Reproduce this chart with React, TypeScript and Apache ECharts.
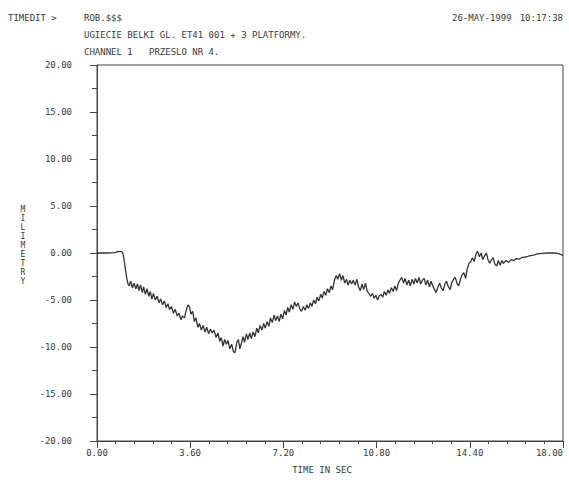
import React, { useEffect, useRef } from "react";
import * as echarts from "echarts";

const headerLeft = "TIMEDIT >";
const fileName = "ROB.$$$";
const titleLine = "UGIECIE BELKI GL. ET41 001 + 3 PLATFORMY.";
const channelLine = "CHANNEL 1   PRZESLO NR 4.";
const dateText = "26-MAY-1999";
const timeText = "10:17:38";
const xAxisName = "TIME IN SEC";
const yAxisName = "MILIMETRY";

const times = [
  0, 0.4, 0.7, 0.8, 0.95, 1.0, 1.05, 1.1, 1.15, 1.2, 1.25, 1.3, 1.37, 1.43, 1.5, 1.56, 1.62, 1.68, 1.75, 1.8,
  1.87, 1.93, 2.0, 2.06, 2.12, 2.18, 2.25, 2.32, 2.4, 2.46, 2.53, 2.6, 2.67, 2.74, 2.8, 2.88, 2.95, 3.02, 3.1, 3.17,
  3.24, 3.3, 3.38, 3.45, 3.52, 3.58, 3.63, 3.7, 3.76, 3.82, 3.9, 3.96, 4.03, 4.1, 4.17, 4.24, 4.31, 4.38, 4.45, 4.52,
  4.6, 4.67, 4.74, 4.8, 4.87, 4.93, 5.0, 5.06, 5.13, 5.2, 5.27, 5.33, 5.4, 5.46, 5.52, 5.58, 5.64, 5.7, 5.77, 5.83,
  5.9, 5.96, 6.03, 6.1, 6.17, 6.23, 6.3, 6.37, 6.44, 6.5, 6.57, 6.64, 6.7, 6.77, 6.84, 6.9, 6.97, 7.04, 7.1, 7.17,
  7.24, 7.3, 7.37, 7.43, 7.5, 7.57, 7.63, 7.7, 7.77, 7.84, 7.9, 7.97, 8.04, 8.1, 8.17, 8.24, 8.3, 8.37, 8.44, 8.5,
  8.57, 8.64, 8.7, 8.77, 8.84, 8.9, 8.97, 9.04, 9.1, 9.17, 9.24, 9.3, 9.37, 9.44, 9.5, 9.57, 9.64, 9.7, 9.77, 9.84,
  9.9, 9.97, 10.04, 10.1, 10.17, 10.24, 10.3, 10.37, 10.44, 10.5, 10.57, 10.64, 10.7, 10.77, 10.84, 10.9, 10.97, 11.04, 11.1, 11.17,
  11.24, 11.3, 11.37, 11.44, 11.5, 11.57, 11.64, 11.7, 11.77, 11.84, 11.9, 11.97, 12.04, 12.1, 12.17, 12.24, 12.3, 12.37, 12.44, 12.5,
  12.57, 12.64, 12.7, 12.77, 12.84, 12.9, 12.97, 13.04, 13.1, 13.17, 13.24, 13.3, 13.37, 13.44, 13.5, 13.57, 13.64, 13.7, 13.77, 13.84,
  13.9, 13.97, 14.04, 14.1, 14.17, 14.24, 14.3, 14.37, 14.44, 14.5, 14.57, 14.64, 14.7, 14.77, 14.84, 14.9, 14.97, 15.04, 15.1, 15.17,
  15.24, 15.3, 15.37, 15.44, 15.5, 15.57, 15.64, 15.7, 15.8, 15.9, 16.0, 16.1, 16.2, 16.3, 16.4, 16.5, 16.6, 16.7, 16.8, 16.9,
  17.0, 17.2, 17.4, 17.6, 17.8, 18.0,
];

const values = [
  0, 0, 0.05, 0.15, 0.15, 0.0, -0.8, -1.8, -2.7, -3.3, -3.5, -3.0, -3.7, -3.2, -3.8, -3.3, -4.0, -3.4, -4.2, -3.6,
  -4.4, -3.8, -4.6, -4.1, -4.9, -4.3, -5.0, -4.6, -5.3, -4.9, -5.5, -5.1, -5.8, -5.4, -6.0, -5.7, -6.4, -6.0, -6.7, -6.4,
  -7.1, -6.7, -6.9, -6.0, -5.5, -5.8, -6.5, -6.2, -7.3, -6.9, -7.9, -7.5, -8.2, -7.7, -8.4, -7.9, -8.6, -8.1, -8.5, -8.2,
  -9.0, -8.5, -9.4, -9.0, -9.9, -9.2, -9.7, -9.3, -10.2, -9.7, -10.5, -10.6, -9.5, -9.2, -10.2, -9.6, -8.9, -9.5, -8.6, -9.2,
  -8.5, -9.1, -8.4, -8.9, -8.0, -8.5, -7.7, -8.2, -7.5, -8.0, -7.3, -7.8, -6.9, -7.4, -6.6, -7.2, -6.7, -7.3, -6.5, -7.0,
  -6.1, -6.6, -5.8, -6.3, -5.5, -6.0, -5.2, -5.7, -5.3, -6.0, -6.2, -5.7, -6.1, -5.5, -5.9, -5.3, -5.7, -5.0, -5.4, -4.7,
  -5.1, -4.4, -4.8, -4.1, -4.5, -3.8, -4.2, -3.5, -3.9, -2.9, -2.4, -2.8, -2.2, -2.9, -2.4, -3.2, -2.8, -3.4, -2.9, -3.3,
  -2.9, -3.4, -2.8, -3.6, -4.0, -3.3, -3.9, -3.2, -4.1, -4.3, -4.6, -4.3, -4.8, -4.5, -5.0, -4.6, -4.4, -4.7, -4.1, -4.5,
  -3.9, -4.3, -3.7, -4.1, -3.5, -4.0, -3.2, -2.9, -2.6, -3.2, -2.7, -3.4, -2.9, -3.5, -2.8, -3.3, -2.7, -3.2, -2.6, -3.3,
  -2.9, -2.7, -3.4, -2.9, -3.6, -3.0, -3.5, -3.9, -4.2, -3.6, -3.2, -3.7, -4.0, -3.3, -3.0, -3.6, -3.9, -3.2, -2.8, -2.6,
  -3.2, -3.5, -2.8, -2.3, -2.1, -2.7, -1.7, -1.1, -0.9, -0.5, -0.9, -0.1, 0.2, -0.4, 0.0, -0.7, -0.3, 0.0, -0.7, -1.1,
  -0.7, -0.5, -1.2, -1.4, -0.8, -1.3, -0.8, -1.1, -0.8, -1.0, -0.7, -0.8, -0.6, -0.65, -0.5, -0.45, -0.4, -0.3, -0.25, -0.2,
  -0.1, -0.05, 0.0, 0.0, -0.05, -0.25,
];

const xTicks = [0, 3.6, 7.2, 10.8, 14.4, 18];
const yTicks = [-20, -15, -10, -5, 0, 5, 10, 15, 20];

const FONT = "DejaVu Sans Mono";
const INK = "#3a3a3a";

export default function App() {
  const ref = useRef<HTMLDivElement>(null);

  useEffect(() => {
    if (!ref.current) return;
    const chart = echarts.init(ref.current, null, { renderer: "svg" });
    const data = times.map((t, i) => [t, values[i]]);
    const txt = (text: string, x: number, y: number, extra: any = {}) => ({
      type: "text",
      x,
      y,
      style: {
        text,
        font: `9px "${FONT}"`,
        fill: INK,
        textVerticalAlign: "middle",
        ...extra,
      },
    });
    chart.setOption({
      animation: false,
      backgroundColor: "#ffffff",
      grid: {
        left: 97,
        right: 6,
        top: 65,
        bottom: 41,
        show: true,
        borderColor: "#444",
        borderWidth: 1,
        containLabel: false,
        outerBoundsMode: "none",
      },
      xAxis: {
        type: "value",
        min: xTicks[0],
        max: xTicks[xTicks.length - 1],
        interval: 3.6,
        axisLine: { show: true, onZero: false, lineStyle: { color: "#444", width: 1 } },
        axisTick: { show: true, length: 7, lineStyle: { color: "#444" } },
        minorTick: { show: true, splitNumber: 5, length: 3, lineStyle: { color: "#444" } },
        splitLine: { show: false },
        axisLabel: {
          margin: 7,
          color: INK,
          fontFamily: FONT,
          fontSize: 9,
          hideOverlap: false,
          alignMaxLabel: "right",
          formatter: (v: number) => v.toFixed(2),
        },
      },
      yAxis: {
        type: "value",
        min: yTicks[0],
        max: yTicks[yTicks.length - 1],
        interval: 5,
        axisLine: { show: true, onZero: false, lineStyle: { color: "#444", width: 1 } },
        axisTick: { show: true, length: 7, lineStyle: { color: "#444" } },
        minorTick: { show: true, splitNumber: 2, length: 5, lineStyle: { color: "#444" } },
        splitLine: { show: false },
        axisLabel: {
          margin: 25,
          color: INK,
          fontFamily: FONT,
          fontSize: 9,
          formatter: (v: number) => v.toFixed(2),
        },
      },
      series: [
        {
          type: "line",
          data,
          showSymbol: false,
          symbol: "none",
          lineStyle: { color: "#333", width: 1.3 },
        },
      ],
      graphic: [
        txt(headerLeft, 8, 18),
        txt(fileName, 84, 18),
        txt(titleLine, 84, 35),
        txt(channelLine, 84, 52),
        txt(dateText, 452, 18),
        txt(timeText, 563, 18, { textAlign: "right" }),
        txt(xAxisName, 322, 470, { textAlign: "center" }),
        {
          type: "text",
          x: 23,
          y: 245,
          style: {
            text: yAxisName.split("").join("\n"),
            font: `8px "${FONT}"`,
            fill: INK,
            textAlign: "center",
            textVerticalAlign: "middle",
            lineHeight: 9,
          },
        },
      ],
    });
    return () => chart.dispose();
  }, []);

  return (
    <div
      ref={ref}
      style={{ position: "absolute", left: 0, top: 0, width: 569, height: 482 }}
    />
  );
}
